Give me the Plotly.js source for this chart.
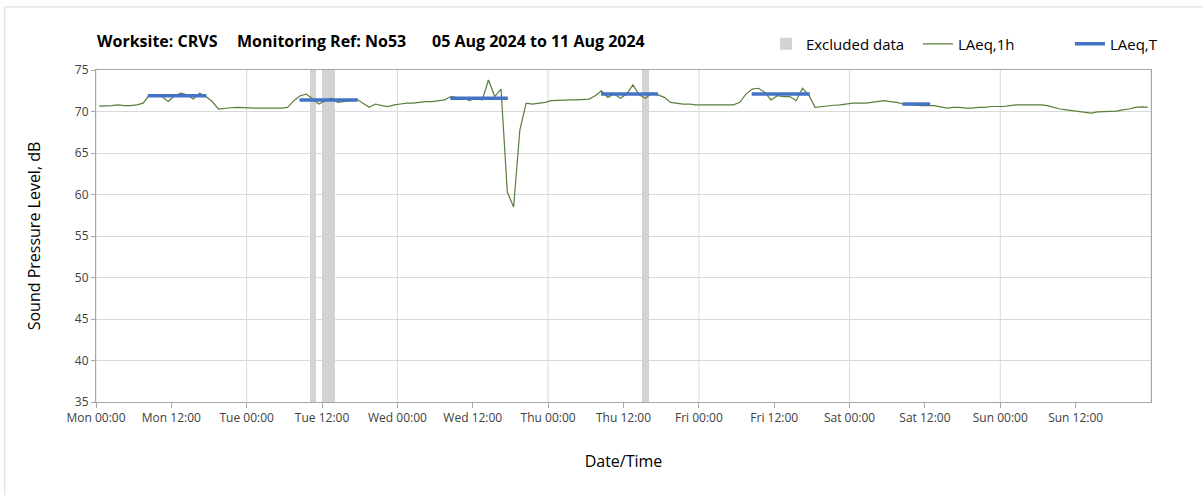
<!DOCTYPE html>
<html>
<head>
<meta charset="utf-8">
<script src="https://cdn.plot.ly/plotly-3.0.1.min.js"></script>
<style>
  html, body { margin: 0; padding: 0; background: #ffffff; }
  #grafico { width: 1203px; height: 495px; }
</style>
</head>
<body>
<div id="grafico"></div>
<script>
// LAeq,1h valores horários (ponto no meio de cada hora), Seg 05 Ago 00:30 até Dom 11 Ago 23:30
const startHour = '2024-08-05T00:30:00';
const laeq1h = [
  // Mon
  70.65, 70.65, 70.7, 70.8, 70.7, 70.7, 70.8, 71.0, 72.0, 71.9, 71.8, 71.2,
  71.9, 72.2, 72.0, 71.5, 72.2, 71.8, 71.2, 70.3, 70.4, 70.45, 70.5, 70.45,
  // Tue
  70.4, 70.4, 70.4, 70.4, 70.4, 70.4, 70.5, 71.3, 71.9, 72.1, 71.5, 70.9,
  71.3, 71.6, 71.1, 71.2, 71.3, 71.5, 71.0, 70.5, 70.9, 70.7, 70.6, 70.8,
  // Wed
  70.9, 71.0, 71.0, 71.1, 71.2, 71.2, 71.3, 71.4, 71.8, 71.7, 71.6, 71.3,
  71.7, 71.4, 73.8, 71.8, 72.7, 60.3, 58.5, 67.8, 71.0, 70.9, 71.0, 71.1,
  // Thu
  71.3, 71.35, 71.35, 71.4, 71.4, 71.47, 71.5, 71.9, 72.5, 71.7, 72.1, 71.6,
  72.1, 73.2, 72.0, 71.6, 72.2, 72.0, 71.7, 71.1, 71.0, 70.9, 70.9, 70.8,
  // Fri
  70.8, 70.8, 70.8, 70.8, 70.8, 70.8, 71.1, 72.1, 72.7, 72.8, 72.3, 71.4,
  71.9, 71.8, 71.8, 71.3, 72.8, 72.0, 70.5, 70.6, 70.7, 70.75, 70.8, 70.9,
  // Sat
  71.0, 71.0, 71.0, 71.1, 71.2, 71.3, 71.2, 71.1, 70.9, 70.8, 70.75, 70.7,
  70.7, 70.7, 70.55, 70.4, 70.5, 70.5, 70.4, 70.4, 70.5, 70.5, 70.6, 70.6,
  // Sun
  70.6, 70.7, 70.8, 70.8, 70.8, 70.8, 70.8, 70.7, 70.5, 70.3, 70.2, 70.1,
  70.0, 69.9, 69.8, 69.95, 70.0, 70.0, 70.05, 70.2, 70.3, 70.5, 70.55, 70.5
];

// LAeq,T por período diurno
const laeqTStart = ['2024-08-05 08:15', '2024-08-06 08:25', '2024-08-07 08:25', '2024-08-08 08:25', '2024-08-09 08:25', '2024-08-10 08:25'];
const laeqTEnd = ['2024-08-05 17:35', '2024-08-06 17:40', '2024-08-07 17:35', '2024-08-08 17:30', '2024-08-09 17:40', '2024-08-10 12:50'];
const laeqTValue = [71.9, 71.4, 71.6, 72.1, 72.1, 70.9];

// Dados excluídos
const excludedStart = ['2024-08-06 10:00', '2024-08-06 12:00', '2024-08-08 15:00'];
const excludedHours = [1, 2, 1];

const dayStarts = ['2024-08-05', '2024-08-06', '2024-08-07', '2024-08-08', '2024-08-09', '2024-08-10', '2024-08-11', '2024-08-12'];

const HOUR = 3600000;
const t0 = new Date(startHour + 'Z').getTime();
const toIso = ms => new Date(ms).toISOString().slice(0, 19).replace('T', ' ');
const laeqTimes = laeq1h.map((v, i) => toIso(t0 + i * HOUR));

// Barras de exclusão (centro e largura em ms)
const exclX = excludedStart.map((s, i) => toIso(new Date(s.replace(' ', 'T') + ':00Z').getTime() + excludedHours[i] * HOUR / 2));
const exclW = excludedHours.map(h => h * HOUR);

// Segmentos LAeq,T com quebras
const segX = [], segY = [];
laeqTStart.forEach((s, i) => {
    segX.push(s, laeqTEnd[i], null);
    segY.push(laeqTValue[i], laeqTValue[i], null);
});

const data = [
    {
        x: exclX,
        y: excludedHours.map(() => 40),
        base: 35,
        width: exclW,
        type: 'bar',
        name: 'Excluded data',
        marker: { color: '#d3d3d3', line: { width: 0 } },
        hoverinfo: 'skip'
    },
    {
        x: laeqTimes,
        y: laeq1h,
        type: 'scatter',
        mode: 'lines',
        name: 'LAeq,1h',
        line: { color: '#5b7d3c', width: 1.2 }
    },
    {
        x: segX,
        y: segY,
        type: 'scatter',
        mode: 'lines',
        name: 'LAeq,T',
        connectgaps: false,
        line: { color: '#4472c4', width: 3.5 }
    }
];

// Linhas de grade verticais à meia-noite
const shapes = dayStarts.map(d => ({
    type: 'line', xref: 'x', yref: 'paper',
    x0: d, x1: d, y0: 0, y1: 1,
    line: { color: '#d9d9d9', width: 1 },
    layer: 'below'
}));
shapes.push({
    type: 'rect', xref: 'paper', yref: 'paper',
    x0: -0.0865, x1: 1.06, y0: -0.3, y1: 1.19,
    line: { color: '#d9d9d9', width: 1 },
    layer: 'below'
});

// Marcas do eixo x a cada 12 h, sem rótulo na última
const tickVals = [], tickText = [];
const dayNames = ['Mon', 'Tue', 'Wed', 'Thu', 'Fri', 'Sat', 'Sun'];
for (let i = 0; i < 14; i++) {
    tickVals.push(toIso(new Date('2024-08-05T00:00:00Z').getTime() + i * 12 * HOUR));
    tickText.push(dayNames[Math.floor(i / 2)] + (i % 2 ? ' 12:00' : ' 00:00'));
}

const titleFont = { family: 'Open Sans', size: 16, color: '#000000', weight: 'bold' };
const layout = {
    width: 1203,
    height: 495,
    margin: { l: 96, r: 52, t: 70, b: 93, autoexpand: false },
    paper_bgcolor: '#ffffff',
    plot_bgcolor: '#ffffff',
    font: { family: 'Open Sans', size: 12, color: '#404040' },
    showlegend: true,
    bargap: 0,
    legend: {
        orientation: 'h',
        x: 0.635, xanchor: 'left',
        y: 1.078, yanchor: 'middle',
        font: { family: 'Open Sans', size: 15, color: '#000000' },
        entrywidth: 107,
        entrywidthmode: 'pixels',
        itemwidth: 30,
        traceorder: 'normal'
    },
    xaxis: {
        type: 'date',
        range: ['2024-08-05 00:00', '2024-08-12 00:00'],
        tickvals: tickVals,
        ticktext: tickText,
        showgrid: false,
        zeroline: false,
        ticks: 'outside',
        ticklen: 5,
        tickcolor: '#a6a6a6',
        showline: true,
        linecolor: '#a6a6a6',
        mirror: true,
        tickfont: { family: 'Open Sans', size: 12, color: '#404040' },
        title: { text: 'Date/Time', font: { family: 'Open Sans', size: 16, color: '#000000' }, standoff: 30 }
    },
    yaxis: {
        range: [35, 75],
        dtick: 5,
        showgrid: true,
        gridcolor: '#d9d9d9',
        zeroline: false,
        ticks: 'outside',
        ticklen: 4,
        tickcolor: '#a6a6a6',
        showline: true,
        linecolor: '#a6a6a6',
        mirror: true,
        tickfont: { family: 'Open Sans', size: 12, color: '#404040' },
        title: { text: 'Sound Pressure Level, dB', font: { family: 'Open Sans', size: 16, color: '#000000' }, standoff: 30 }
    },
    shapes: shapes,
    annotations: [
        { text: 'Worksite: CRVS', x: 95, y: 41 },
        { text: 'Monitoring Ref: No53', x: 235, y: 41 },
        { text: '05 Aug 2024 to 11 Aug 2024', x: 430, y: 41 }
    ].map(a => ({
        text: a.text, showarrow: false,
        xref: 'paper', yref: 'paper',
        x: (a.x - 96) / 1055, xanchor: 'left',
        y: (402 - a.y) / 332, yanchor: 'middle',
        font: titleFont
    }))
};

Plotly.newPlot('grafico', data, layout, { displayModeBar: false, staticPlot: true });
</script>
</body>
</html>
